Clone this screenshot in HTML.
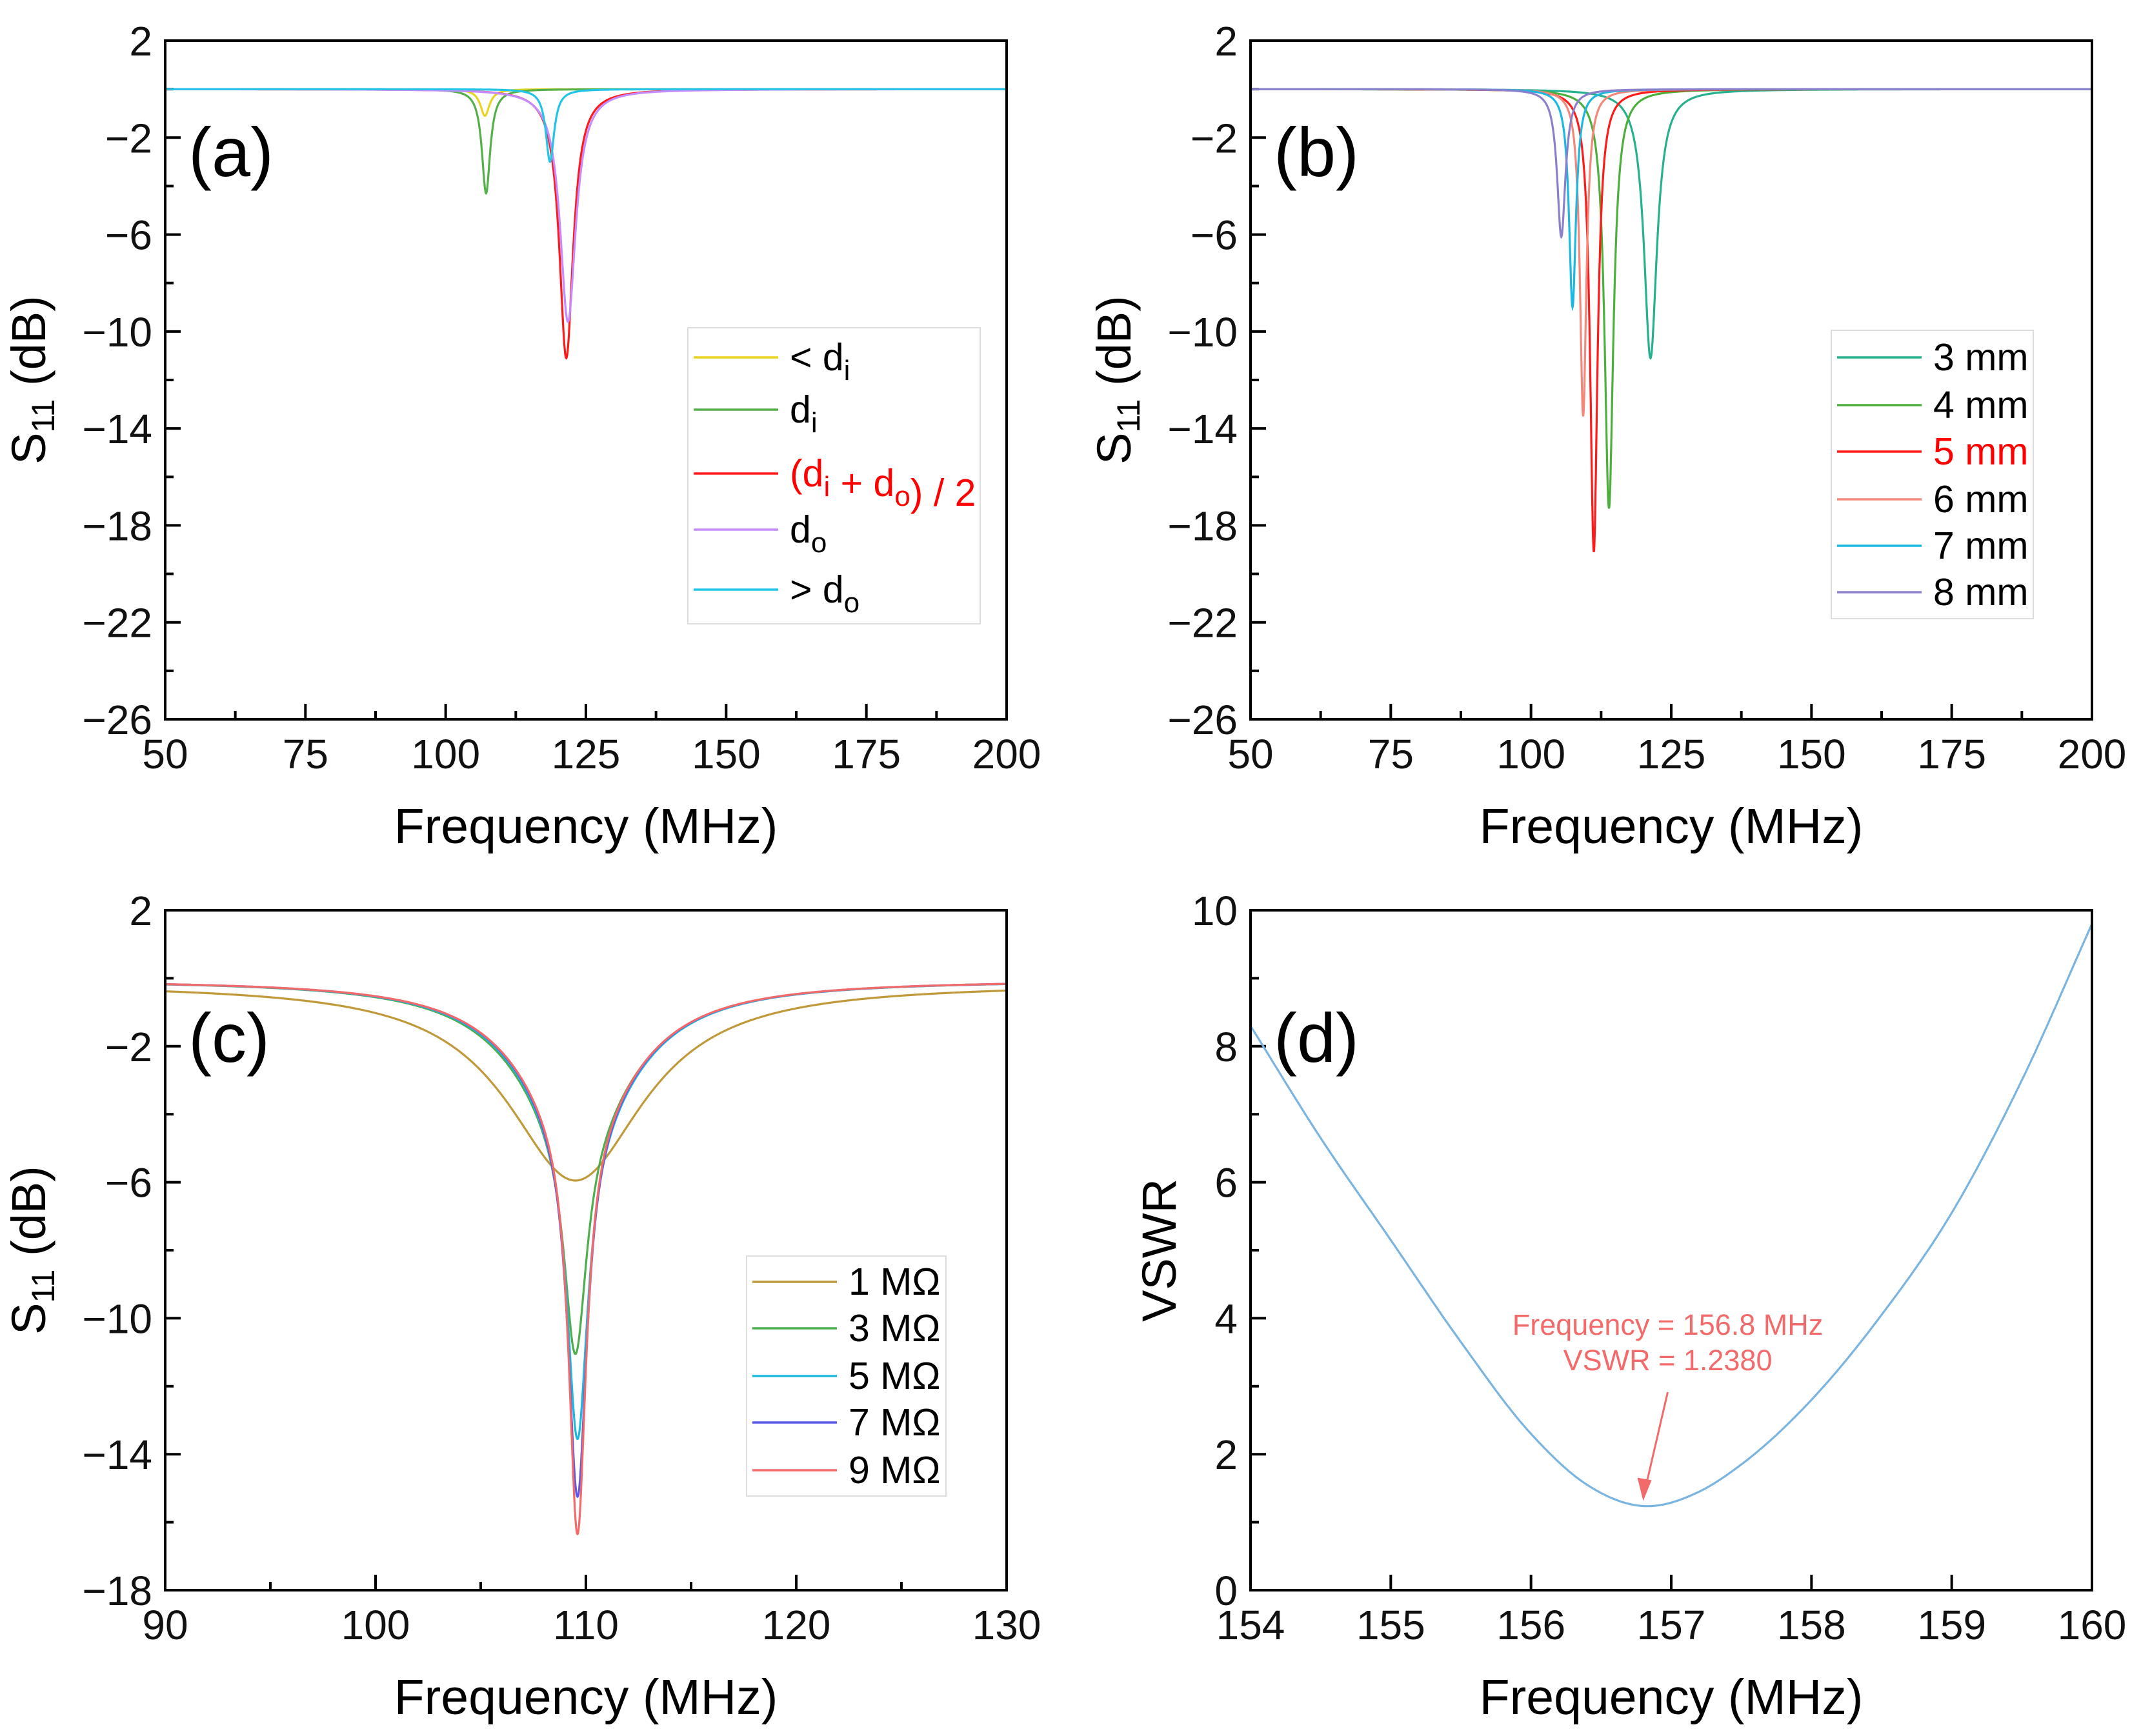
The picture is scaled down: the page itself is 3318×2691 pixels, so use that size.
<!DOCTYPE html>
<html><head><meta charset="utf-8"><style>
html,body{margin:0;padding:0;background:#fff}
svg{display:block;font-family:"Liberation Sans",Arial,sans-serif}
</style></head><body>
<svg id="fig" width="3318" height="2691" viewBox="0 0 3318 2691" xmlns="http://www.w3.org/2000/svg"></svg>
<script>
// ---- Panel (a) data: resonance params ----
const aLabels = ['< d_i','d_i','(d_i + d_o) / 2','d_o','> d_o'];
const aColors = ['#e8d422','#56b04a','#ff1a1a','#c58cff','#22c4e8'];
const aCenter = [107.0, 107.2, 121.5, 121.8, 118.6];
const aDepth = [-1.1, -4.3, -11.1, -9.6, -3.0];
const aWidth = [1.0, 0.9, 1.5, 1.7, 0.9];
// ---- Panel (b) data ----
const bLabels = ['3 mm','4 mm','5 mm','6 mm','7 mm','8 mm'];
const bColors = ['#26b08e','#4caf3c','#ff1a1a','#f5877a','#1cb8e0','#8a80cc'];
const bCenter = [121.3, 113.9, 111.2, 109.3, 107.4, 105.4];
const bDepth = [-11.1, -17.3, -19.1, -13.5, -9.0, -6.1];
const bWidth = [1.4, 0.95, 0.8, 0.7, 0.75, 0.9];
// ---- Panel (c) data ----
const cLabels = ['1 MΩ','3 MΩ','5 MΩ','7 MΩ','9 MΩ'];
const cColors = ['#c09a3a','#4cae4c','#1cb8e0','#5a5ae8','#f26a6a'];
const cCenter = [109.5, 109.5, 109.6, 109.6, 109.6];
const cDepth = [-5.8, -11.0, -13.5, -15.2, -16.3];
const cBroadDepth = [-5.8, -4.2, -4.1, -4.0, -4.0];
const cBroadWidth = [4.0, 3.4, 3.4, 3.4, 3.4];
const cNarrowWidth = [0.4, 0.65, 0.6, 0.55, 0.5];
const cBase = [-0.15, -0.05, -0.05, -0.05, -0.05];
// ---- Panel (d) data ----
const dFreq = [154, 154.5, 155, 155.5, 156, 156.4, 156.8, 157.2, 157.5, 158, 158.5, 159, 159.5, 160];
const dVswr = [8.3, 6.65, 5.15, 3.65, 2.3, 1.55, 1.238, 1.45, 1.85, 2.8, 4.05, 5.55, 7.5, 9.8];

const NS='http://www.w3.org/2000/svg';
const svg=document.getElementById('fig');
function el(tag,attrs,parent){const e=document.createElementNS(NS,tag);for(const k in attrs)e.setAttribute(k,attrs[k]);(parent||svg).appendChild(e);return e;}

function panel(o){
  const g=el('g',{});
  
  
  const X=v=>o.x0+(v-o.xmin)/(o.xmax-o.xmin)*(o.x1-o.x0);
  const Y=v=>o.y1-(v-o.ymin)/(o.ymax-o.ymin)*(o.y1-o.y0);
  const tg=el('g',{stroke:'#000','stroke-width':4},g);
  for(let v=o.xmin;v<=o.xmax+1e-9;v+=o.xstep){
    el('line',{x1:X(v),x2:X(v),y1:o.y1,y2:o.y1-24},tg);
    const t=el('text',{x:X(v),y:o.y1+76,'font-size':64,'text-anchor':'middle',stroke:'none',fill:'#111'},g);
    t.textContent=String(v);
    
    
    if(o.xminor&&v+o.xstep/2<o.xmax) el('line',{x1:X(v+o.xstep/2),x2:X(v+o.xstep/2),y1:o.y1,y2:o.y1-13},tg);
  }
  for(let v=o.ymin;v<=o.ymax+1e-9;v+=o.ystep){
    el('line',{x1:o.x0,x2:o.x0+24,y1:Y(v),y2:Y(v)},tg);
    const t=el('text',{x:o.x0-20,y:Y(v)+23,'font-size':64,'text-anchor':'end',fill:'#111',stroke:'none'},g);
    t.textContent=(v<0?'\u2212'+(-v):String(v));
    
    
    if(v+o.ystep/2<o.ymax) el('line',{x1:o.x0,x2:o.x0+13,y1:Y(v+o.ystep/2),y2:Y(v+o.ystep/2)},tg);
  }
  const clip='clip-'+o.name;
  const cp=el('clipPath',{id:clip},g);el('rect',{x:o.x0,y:o.y0,width:o.x1-o.x0,height:o.y1-o.y0},cp);
  o.series.forEach((s,i)=>{
    let d='';
    s.pts.forEach((p,j)=>{d+=(j?'L':'M')+X(p[0]).toFixed(1)+','+Y(p[1]).toFixed(1);});
    const p=el('path',{d:d,fill:'none',stroke:s.color,'stroke-width':3.2,'clip-path':'url(#'+clip+')'},g);
    
    
  });
  const f=el('rect',{x:o.x0,y:o.y0,width:o.x1-o.x0,height:o.y1-o.y0,fill:'none',stroke:'#000','stroke-width':4},g);
  
  
  const pl=el('text',{x:o.x0+36,y:o.y0+(o.tagDy||210),'font-size':108,fill:'#000'},g);
  pl.textContent=o.tag;
  
  
  const xt=el('text',{x:(o.x0+o.x1)/2,y:o.y1+192,'font-size':77,'text-anchor':'middle',fill:'#000'},g);
  xt.textContent='Frequency (MHz)';
  
  
  const cy=(o.y0+o.y1)/2;
  const yt=el('text',{x:0,y:0,'font-size':74,'text-anchor':'middle',fill:'#000',transform:'translate('+(o.ytx)+','+cy+') rotate(-90)'},g);
  
  
  if(o.ytitle==='S11'){
    yt.innerHTML='S<tspan font-size="50" dy="14">11</tspan><tspan dy="-14"> (dB)</tspan>';
  } else yt.textContent=o.ytitle;
  if(o.legend){
    const L=o.legend;
    const lg=el('g',{},g);
    
    
    el('rect',{x:L.x,y:L.y,width:L.w,height:L.h,fill:'#fff',stroke:'#ddd','stroke-width':2},lg);
    o.series.forEach((s,i)=>{
      const ey=L.ys[i];
      const e=el('g',{},lg);
      
      
      el('line',{x1:L.x+9,x2:L.x+140,y1:ey,y2:ey,stroke:s.color,'stroke-width':3.5},e);
      const t=el('text',{x:L.x+158,y:ey+20,'font-size':59,fill:s.label==='(d_i + d_o) / 2'||s.label==='5 mm'?'#ff0000':'#000'},e);
      t.innerHTML=s.label.replace(/d_(i|o)/g,'d<tspan font-size="44" dy="15">$1</tspan><tspan dy="-15"></tspan>');
    });
  }
  return {X,Y,g};
}

function lorentz(center,depth,width,fmin,fmax,base){
  const pts=[];const n=3000;
  for(let k=0;k<=n;k++){const f=fmin+(fmax-fmin)*k/n;const u=(f-center)/width;pts.push([f,(base||0)+depth/(1+u*u)]);}
  return pts;
}

panel({name:'panel-a',tag:'(a)',x0:256,x1:1560,y0:63,y1:1115,xmin:50,xmax:200,xstep:25,xminor:true,ymin:-26,ymax:2,ystep:4,ytitle:'S11',ytx:70,
  series:aLabels.map((l,i)=>({key:'a'+i,label:l,color:aColors[i],pts:lorentz(aCenter[i],aDepth[i],aWidth[i],50,200)})),
  legend:{x:1066,y:508,w:453,h:459,ys:[554,635,734,821,914]}});
panel({name:'panel-b',tag:'(b)',x0:1938,x1:3242,y0:63,y1:1115,xmin:50,xmax:200,xstep:25,xminor:true,ymin:-26,ymax:2,ystep:4,ytitle:'S11',ytx:1752,
  series:bLabels.map((l,i)=>({key:'b'+i,label:l,color:bColors[i],pts:lorentz(bCenter[i],bDepth[i],bWidth[i],50,200)})),
  legend:{x:2838,y:512,w:313,h:447,ys:[554,628,700,774,846,918]}});
panel({name:'panel-c',tag:'(c)',tagDy:235,x0:256,x1:1560,y0:1411,y1:2465,xmin:90,xmax:130,xstep:10,xminor:true,ymin:-18,ymax:2,ystep:4,ytitle:'S11',ytx:70,
  series:cLabels.map((l,i)=>{
    const pts=[];const n=3000;
    for(let k=0;k<=n;k++){const f=90+40*k/n;const du=f-cCenter[i];
      const b=cBroadDepth[i]/(1+Math.pow(du/cBroadWidth[i],2));
      const nd=(cDepth[i]-cBroadDepth[i])/(1+Math.pow(du/cNarrowWidth[i],2));
      pts.push([f,cBase[i]+b+nd]);}
    return {key:'c'+i,label:l,color:cColors[i],pts};
  }),
  legend:{x:1157,y:1947,w:309,h:372,ys:[1987,2059,2133,2205,2279]}});
function monotone(xs,ys){
  const n=xs.length,pts=[];
  const m=[];for(let i=0;i<n;i++){
    if(i===0)m.push((ys[1]-ys[0])/(xs[1]-xs[0]));
    else if(i===n-1)m.push((ys[n-1]-ys[n-2])/(xs[n-1]-xs[n-2]));
    else m.push(((ys[i+1]-ys[i])/(xs[i+1]-xs[i])*(xs[i]-xs[i-1])+(ys[i]-ys[i-1])/(xs[i]-xs[i-1])*(xs[i+1]-xs[i]))/(xs[i+1]-xs[i-1]));}
  for(let i=0;i<n-1;i++){const h=xs[i+1]-xs[i];
    for(let k=0;k<40;k++){const t=k/40;const h00=2*t*t*t-3*t*t+1,h10=t*t*t-2*t*t+t,h01=-2*t*t*t+3*t*t,h11=t*t*t-t*t;
      pts.push([xs[i]+t*h,h00*ys[i]+h10*h*m[i]+h01*ys[i+1]+h11*h*m[i+1]]);}}
  pts.push([xs[n-1],ys[n-1]]);return pts;
}
const pd=panel({name:'panel-d',tag:'(d)',tagDy:235,x0:1938,x1:3242,y0:1411,y1:2465,xmin:154,xmax:160,xstep:1,xminor:false,ymin:0,ymax:10,ystep:2,ytitle:'VSWR',ytx:1822,
  series:[{key:'vswr',label:'VSWR',color:'#7ab4e0',pts:monotone(dFreq,dVswr)}]});
const ann=el('g',{fill:'#f26a6a','font-size':45,'text-anchor':'middle'},pd.g);


const minIdx=dVswr.indexOf(Math.min(...dVswr));
const axp=pd.X(dFreq[minIdx]),ayp=pd.Y(dVswr[minIdx]);
const t1=el('text',{x:axp+38,y:2069},ann);t1.textContent='Frequency = '+dFreq[minIdx].toFixed(1)+' MHz';
const t2=el('text',{x:axp+38,y:2124},ann);t2.textContent='VSWR = '+dVswr[minIdx].toFixed(4);
el('line',{x1:axp+38,y1:2158,x2:axp+4,y2:ayp-30,stroke:'#f26a6a','stroke-width':3},ann);
el('path',{d:'M'+(axp)+','+(ayp-8)+' L'+(axp-9)+','+(ayp-44)+' L'+(axp+13)+','+(ayp-40)+' Z',fill:'#f26a6a'},ann);
</script>
</body></html>
